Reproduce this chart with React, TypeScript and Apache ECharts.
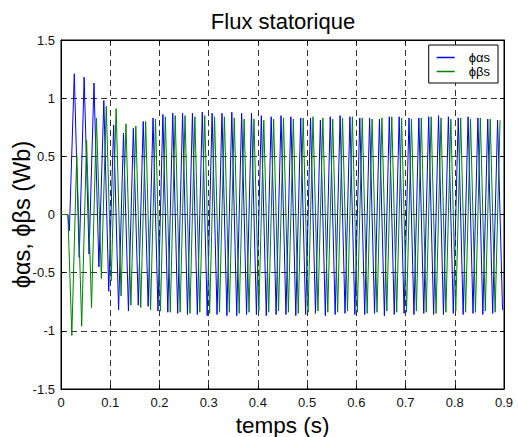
import React, { useEffect, useRef } from "react";
import * as echarts from "echarts";

// Axis ranges / ticks
const X_MIN = 0;
const X_MAX = 0.9;
const X_STEP = 0.1;
const Y_MIN = -1.5;
const Y_MAX = 1.5;
const Y_STEP = 0.5;

// Timing: both fluxes stay at 0 until ~0.014 s,
// then an extremum occurs every 0.01 s (50 Hz).
const START_HOLD_T = 0.014;
const HALF_PERIOD = 0.01;
const ALPHA_FIRST_TROUGH_T = 0.017;
const BETA_FIRST_TROUGH_T = 0.022;

// φαs extrema (Wb)
const alphaTroughs = [
  -0.14, -0.37, -0.34, -0.45, -0.66, -0.82, -0.83, -0.78, -0.79, -0.83,
  -0.84, -0.85, -0.86, -0.86, -0.87, -0.86, -0.87, -0.87, -0.86, -0.86,
  -0.87, -0.86, -0.86, -0.87, -0.86, -0.85, -0.87, -0.86, -0.85, -0.86,
  -0.86, -0.85, -0.87, -0.86, -0.85, -0.86, -0.85, -0.86, -0.86, -0.85,
  -0.86, -0.85, -0.86, -0.85, -0.82,
];
const alphaPeaks = [
  1.21, 1.18, 1.13, 0.98, 0.77, 0.7, 0.74, 0.8, 0.83, 0.86,
  0.87, 0.87, 0.87, 0.88, 0.87, 0.87, 0.88, 0.87, 0.87, 0.85,
  0.84, 0.85, 0.84, 0.83, 0.83, 0.81, 0.84, 0.85, 0.84, 0.83,
  0.83, 0.82, 0.84, 0.84, 0.83, 0.83, 0.84, 0.85, 0.84, 0.83,
  0.84, 0.83, 0.82, 0.81,
];

// φβs extrema (Wb)
const betaTroughs = [
  -1.04, -0.96, -0.8, -0.55, -0.57, -0.7, -0.78, -0.8, -0.82, -0.83,
  -0.84, -0.84, -0.85, -0.84, -0.85, -0.84, -0.84, -0.85, -0.84, -0.83,
  -0.84, -0.83, -0.84, -0.85, -0.84, -0.83, -0.84, -0.84, -0.83, -0.84,
  -0.85, -0.84, -0.83, -0.84, -0.84, -0.83, -0.84, -0.85, -0.84, -0.83,
  -0.84, -0.84, -0.83, -0.84,
];
const betaPeaks = [
  0.51, 0.64, 0.83, 0.93, 0.91, 0.78, 0.76, 0.8, 0.82, 0.84,
  0.85, 0.85, 0.84, 0.85, 0.84, 0.84, 0.83, 0.82, 0.82, 0.81,
  0.82, 0.83, 0.82, 0.83, 0.84, 0.83, 0.82, 0.83, 0.84, 0.83,
  0.82, 0.83, 0.84, 0.83, 0.82, 0.83, 0.84, 0.83, 0.82, 0.83,
  0.82, 0.83, 0.82, 0.81,
];

const SERIES_NAMES = ["ϕαs", "ϕβs"];
const TITLE = "Flux statorique";
const X_NAME = "temps (s)";
const Y_NAME = "ϕαs, ϕβs (Wb)";

function buildSeries(t0: number, troughs: number[], peaks: number[]) {
  const pts: [number, number][] = [
    [0, 0],
    [START_HOLD_T, 0],
  ];
  const n = troughs.length + peaks.length;
  for (let i = 0; i < n; i++) {
    const k = Math.floor(i / 2);
    const v = i % 2 === 0 ? troughs[k] : peaks[k];
    if (v === undefined) break;
    pts.push([+(t0 + i * HALF_PERIOD).toFixed(4), v]);
  }
  return pts;
}

const FONT = "'Liberation Sans', Arial, Helvetica, sans-serif";

export default function App() {
  const ref = useRef<HTMLDivElement>(null);

  useEffect(() => {
    if (!ref.current) return;
    const chart = echarts.init(ref.current, undefined, { renderer: "svg" });

    const alpha = buildSeries(ALPHA_FIRST_TROUGH_T, alphaTroughs, alphaPeaks);
    const beta = buildSeries(BETA_FIRST_TROUGH_T, betaTroughs, betaPeaks);

    const gridLine = { show: true, lineStyle: { color: "#333", width: 1, type: [6, 4] as any } };

    chart.setOption({
      animation: false,
      backgroundColor: "#ffffff",
      textStyle: { fontFamily: FONT },
      title: {
        text: TITLE,
        left: 283,
        top: 10,
        textAlign: "center",
        padding: 0,
        textStyle: { fontSize: 22, fontWeight: "normal", color: "#000", fontFamily: FONT },
      },
      legend: {
        data: SERIES_NAMES,
        orient: "vertical",
        right: 20,
        top: 45,
        backgroundColor: "#fff",
        borderColor: "#000",
        borderWidth: 1,
        borderRadius: 0,
        padding: [6, 8, 5, 8],
        itemWidth: 18,
        itemHeight: 1.5,
        itemGap: 1,
        icon: "rect",
        itemStyle: { borderWidth: 0 },
        formatter: (name: string) => "{t|" + name + "}",
        textStyle: {
          fontSize: 13,
          color: "#000",
          fontFamily: FONT,
          rich: { t: { fontSize: 13, lineHeight: 13, padding: [0, 0, 0, 9], color: "#000", fontFamily: FONT } },
        },
      },
      grid: {
        left: 61,
        right: 14,
        top: 40,
        bottom: 48,
        show: true,
        borderColor: "#000",
        borderWidth: 1,
        backgroundColor: "#fff",
        containLabel: false,
        outerBoundsMode: "none",
      },
      xAxis: [
        {
          type: "value",
          min: X_MIN,
          max: X_MAX,
          interval: X_STEP,
          position: "bottom",
          name: X_NAME,
          nameLocation: "middle",
          nameGap: 25,
          nameMoveOverlap: false,
          nameTextStyle: { fontSize: 22.5, color: "#000", fontFamily: FONT },
          axisLine: { show: true, onZero: false, lineStyle: { color: "#000", width: 1 } },
          axisTick: { show: true, inside: true, length: 4, lineStyle: { color: "#000" } },
          axisLabel: { color: "#111", fontSize: 13, margin: 7, fontFamily: FONT },
          splitLine: gridLine,
        },
        {
          type: "value",
          min: X_MIN,
          max: X_MAX,
          interval: X_STEP,
          position: "top",
          axisLine: { show: true, onZero: false, lineStyle: { color: "#000", width: 1 } },
          axisTick: { show: true, inside: true, length: 4, lineStyle: { color: "#000" } },
          axisLabel: { show: false },
          splitLine: { show: false },
        },
      ],
      yAxis: [
        {
          type: "value",
          min: Y_MIN,
          max: Y_MAX,
          interval: Y_STEP,
          position: "left",
          name: Y_NAME,
          nameLocation: "middle",
          nameGap: 27,
          nameMoveOverlap: false,
          nameTextStyle: { fontSize: 23.5, color: "#000", fontFamily: FONT },
          axisLine: { show: true, onZero: false, lineStyle: { color: "#000", width: 1 } },
          axisTick: { show: true, inside: true, length: 4, lineStyle: { color: "#000" } },
          axisLabel: { color: "#111", fontSize: 13, margin: 6, fontFamily: FONT },
          splitLine: gridLine,
        },
        {
          type: "value",
          min: Y_MIN,
          max: Y_MAX,
          interval: Y_STEP,
          position: "right",
          axisLine: { show: true, onZero: false, lineStyle: { color: "#000", width: 1 } },
          axisTick: { show: true, inside: true, length: 4, lineStyle: { color: "#000" } },
          axisLabel: { show: false },
          splitLine: { show: false },
        },
      ],
      series: [
        {
          name: SERIES_NAMES[0],
          type: "line",
          data: alpha,
          showSymbol: false,
          symbol: "none",
          color: "#0000ff",
          lineStyle: { color: "#0000ff", width: 1 },
          silent: true,
        },
        {
          name: SERIES_NAMES[1],
          type: "line",
          data: beta,
          showSymbol: false,
          symbol: "none",
          color: "#008000",
          lineStyle: { color: "#008000", width: 1 },
          silent: true,
        },
      ],
    });

    return () => {
      chart.dispose();
    };
  }, []);

  return (
    <div
      ref={ref}
      style={{ position: "fixed", left: 0, top: 0, width: 518, height: 437, background: "#fff" }}
    />
  );
}
